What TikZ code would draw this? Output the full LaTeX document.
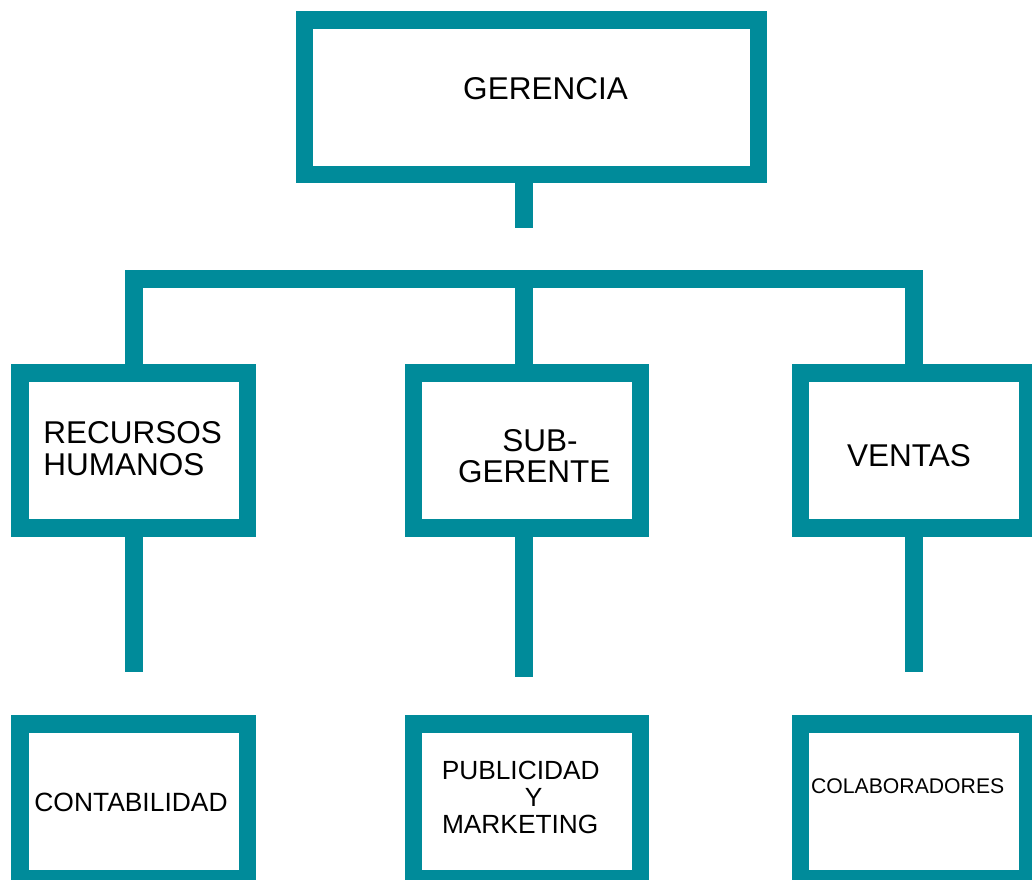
\documentclass[tikz,border=0pt]{standalone}
\usepackage{fontspec}
\setmainfont{Liberation Sans}
\definecolor{teal1}{RGB}{0,139,154}
\begin{document}
\begin{tikzpicture}[x=1pt,y=-1pt,
  box/.style={draw=teal1,line width=17.6pt,minimum width=227.2pt,minimum height=154.8pt,inner sep=0pt},
  conn/.style={draw=teal1,line width=17.6pt,line cap=butt,line join=miter},
  lbl/.style={anchor=base,inner sep=0pt,text=black},
  fbig/.style={font=\fontsize{31.5}{33}\selectfont},
  fmid/.style={font=\fontsize{26.4}{28}\selectfont},
  fsmall/.style={font=\fontsize{21.2}{23}\selectfont}]
\useasboundingbox (0,0) rectangle (1032,879);
\fill[white] (0,0) rectangle (1032,879);
% boxes
\node[box,minimum width=454pt,minimum height=154.7pt] (g) at (531.5,97.2) {};
\node[box] (rh) at (133.8,450.5) {};
\node[box] (sg) at (527,450.5) {};
\node[box] (ve) at (914.1,450.5) {};
\node[box] (co) at (133.8,801.5) {};
\node[box] (pm) at (527,801.5) {};
\node[box] (cb) at (914.1,801.5) {};
% connector coordinates
\coordinate (gs) at (524,227.7);
\coordinate (hub) at (524,278.7);
\coordinate (lt) at (133.8,278.7);
\coordinate (rt) at (914.1,278.7);
\coordinate (lb) at (133.8,671.7);
\coordinate (mb) at (524,677);
\coordinate (rb) at (914.1,671.7);
% connectors
\draw[conn] (gs |- g.south) -- (gs);
\draw[conn] (rh.north) -- (lt) -- (rt) -- (ve.north);
\draw[conn] (hub) -- (hub |- sg.north);
\draw[conn] (rh.south) -- (lb);
\draw[conn] (mb |- sg.south) -- (mb);
\draw[conn] (ve.south) -- (rb);
% labels
\node[lbl,fbig] (tg) at (545.5,99) {GERENCIA};
\node[lbl,fbig,anchor=base west] (trh1) at (43.2,443.3) {RECURSOS};
\node[lbl,fbig,anchor=base west] (trh2) at (43.2,475) {HUMANOS};
\node[lbl,fbig] (tsg1) at (540,451.3) {SUB-};
\node[lbl,fbig] (tsg2) at (534.2,482.3) {GERENTE};
\node[lbl,fbig] (tve) at (909,466.7) {VENTAS};
\node[lbl,fmid] (tco) at (131,811.7) {CONTABILIDAD};
\node[lbl,fmid,font=\fontsize{26.3}{28}\selectfont] (tpm1) at (520.7,779.3) {PUBLICIDAD};
\node[lbl,fmid,font=\fontsize{26.3}{28}\selectfont] (tpm2) at (533.7,806) {Y};
\node[lbl,fmid,font=\fontsize{26.3}{28}\selectfont] (tpm3) at (520.2,833.3) {MARKETING};
\node[lbl,fsmall] (tcb) at (907.7,793.3) {COLABORADORES};
\end{tikzpicture}
\end{document}
